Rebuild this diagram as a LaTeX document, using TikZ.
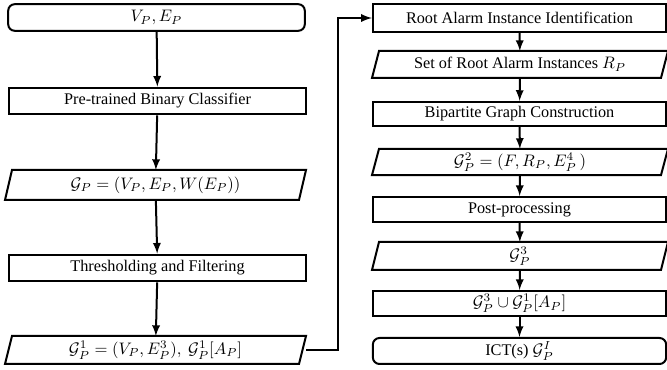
\documentclass[tikz,border=0pt]{standalone}
\usepackage{fontspec}
\setmainfont{Liberation Serif}
\usepackage{tikz}
\usetikzlibrary{arrows}

% outline of a data (parallelogram) box
\newcommand{\slantbox}[1]{%
  \draw ([xshift=4.2pt]#1.north west) -- (#1.north east) -- ([xshift=-4.2pt]#1.south east) -- (#1.south west) -- cycle;}

\begin{document}
\begin{tikzpicture}[x=0.6pt,y=-0.6pt,line width=1.2pt,
  proc/.style={draw,rectangle,minimum width=#1,minimum height=16pt,inner sep=0pt,font=\fontsize{9.75}{11}\selectfont},
  proc/.default=178pt,
  term/.style={proc=#1,rounded corners=4pt},
  term/.default=178pt,
  io/.style={proc=#1,draw=none},
  io/.default=179.4pt]
\useasboundingbox (0,0) rectangle (667,370);

% left column
\node[term] (vp) at (156.5,17.5) {$V_P, E_P$};
\node[proc] (clf) at (157.5,101) {Pre-trained Binary Classifier};
\node[io,minimum height=16.8pt] (gp) at (155.5,185) {$\mathcal{G}_P = (V_P, E_P, W(E_P))$};
\node[proc] (thr) at (157.5,268) {Thresholding and Filtering};
\node[io,minimum height=15.6pt] (gp1) at (155.5,350) {$\mathcal{G}_P^1 = (V_P, E_P^3),\ \mathcal{G}_P^1[A_P]$};

% right column
\node[proc=176pt,minimum height=17pt] (rai) at (519.5,18) {Root Alarm Instance Identification};
\node[io=176.4pt,minimum height=15pt] (rp) at (520,64.5) {Set of Root Alarm Instances $R_P$};
\node[proc=176pt,minimum height=14.5pt] (bgc) at (519.5,114) {Bipartite Graph Construction};
\node[io=176.4pt,minimum height=14.5pt] (gp2) at (520,162) {$\mathcal{G}_P^2 = (F, R_P, E_P^4\,)$};
\node[proc=176pt,minimum height=15pt] (post) at (519.5,209.5) {Post-processing};
\node[io=176.4pt,minimum height=15.6pt] (gp3) at (520,256) {$\mathcal{G}_P^3$};
\node[proc=176pt,minimum height=15pt] (uni) at (519.5,303.5) {$\mathcal{G}_P^3 \cup \mathcal{G}_P^1[A_P]$};
\node[term=176pt,minimum height=15.6pt] (ict) at (519.5,351) {ICT(s) $\mathcal{G}_P^I$};

\slantbox{gp}
\slantbox{gp1}
\slantbox{rp}
\slantbox{gp2}
\slantbox{gp3}

\coordinate (turn) at (338,18);

\draw[-latex] (vp) -- (clf);
\draw[-latex] (clf) -- (gp);
\draw[-latex] (gp) -- (thr);
\draw[-latex] (thr) -- (gp1);
\draw[-latex] (gp1.east) -| (turn) -- (rai.west);
\draw[-latex] (rai) -- (rp);
\draw[-latex] (rp) -- (bgc);
\draw[-latex] (bgc) -- (gp2);
\draw[-latex] (gp2) -- (post);
\draw[-latex] (post) -- (gp3);
\draw[-latex] (gp3) -- (uni);
\draw[-latex] (uni) -- (ict);
\end{tikzpicture}
\end{document}
